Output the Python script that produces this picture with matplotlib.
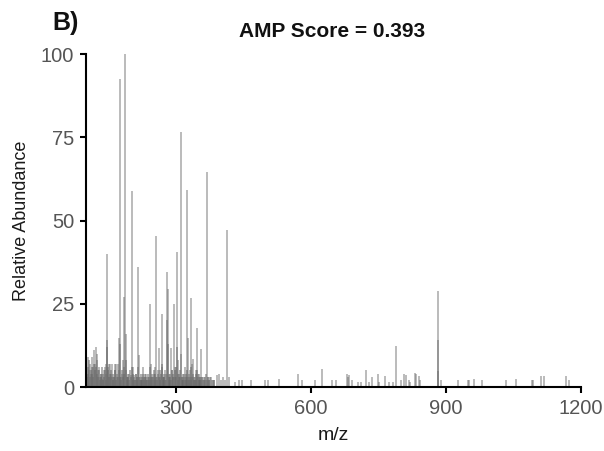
import matplotlib
matplotlib.use("Agg")
import matplotlib.pyplot as plt

plt.rcParams['font.family'] = ['Liberation Sans', 'DejaVu Sans']

# peak list (m/z, relative abundance)
mz = [
    102, 105, 108, 110, 112, 114, 116, 118, 120, 122, 124, 125, 127, 129, 131, 134, 137, 140, 142, 144,
    146, 147.6, 148, 151, 153, 155, 157, 159, 162, 164, 166, 168, 170, 172, 174, 175.8, 178, 180, 183,
    185, 187.7, 188.5, 190, 193, 196, 199.6, 202.6, 204, 207, 209, 211, 214, 216.7, 218, 221, 224, 228,
    231, 233, 236, 238, 242, 244, 247, 250, 252, 254, 256, 258, 261, 263, 265, 268.8, 270, 273, 276,
    278, 280, 281.4, 283, 286, 289, 292, 294, 296, 297.8, 300, 302, 304, 306, 309, 311, 312, 315, 318,
    321, 325.3, 328, 331, 333.5, 336, 339, 342, 345, 347, 350, 353, 356, 359, 362, 365, 369, 371, 374,
    378, 382, 386, 391.5, 396.7, 401, 406, 410, 413.8, 418, 431, 440, 447, 467, 499, 505, 529,
    572, 581, 608.6, 625.7, 646.5, 655.4, 681.5, 684, 685, 691, 706, 711, 722, 729.7, 737, 750, 752,
    765.5, 773, 782, 789, 800, 808, 811.6, 818, 820.5, 832, 834, 840, 843, 883, 883.5, 884, 890,
    927, 949, 952, 962, 980, 1033, 1056, 1092, 1094, 1112, 1119, 1167, 1175,
]
abundance = [
    3, 9, 5, 7, 4, 9, 6, 11, 7, 12, 10, 8, 5, 6, 3, 4, 2.5, 5, 6, 7,
    4, 40, 14, 7, 3, 7, 4, 7, 3, 7, 5, 7, 3, 7, 14.6, 92.5, 3, 4, 8,
    27, 100, 16, 5, 3, 4, 3.5, 59, 6, 3.5, 2, 4, 3, 36, 9.5, 3, 2, 6,
    3, 4, 2, 3, 25, 7, 3, 2, 4, 6, 45.4, 3, 5, 11.6, 3, 22, 6, 3, 5,
    2, 20, 34.6, 29.5, 4, 11.6, 5, 3, 25, 6, 3, 40.5, 8, 4, 3, 76.7, 10, 3, 4,
    6, 59.2, 14.6, 5, 26.8, 7, 8.4, 3, 5, 17.8, 4, 3, 11.5, 3, 2, 3, 64.7, 3, 2,
    3, 2, 2, 3.5, 4, 2, 3, 2, 47.1, 3, 1.5, 2, 2, 2, 2, 2, 2.5,
    4, 2, 2, 5.5, 2, 2, 4, 3, 3.5, 2, 1.5, 1.5, 5, 1.5, 3, 4, 1.5,
    3.3, 1.5, 1.5, 12.3, 2, 3.8, 3.5, 2, 1.5, 4.3, 4, 3.3, 2, 29, 14, 4.8, 2,
    2, 2, 2, 2.5, 2.2, 2.2, 2.5, 2.2, 2.2, 3.4, 3.2, 3.2, 2.1,
]

# second, denser layer of small fragment peaks in the low-mass region
mz_minor = [
    101, 103, 104, 106, 107, 109, 111, 113, 115, 117, 119, 121, 123, 126, 128, 130, 132, 133, 135, 136,
    138, 139, 141, 143, 145, 147, 149, 150, 152, 154, 156, 158, 160, 161, 163, 165, 167, 169, 171, 173,
    176, 177, 179, 181, 182, 184, 186, 189, 191, 192, 194, 195, 197, 198, 201, 203, 205, 206, 208, 210,
    212, 213, 215, 217, 219, 220, 222, 223, 225, 226, 227, 229, 230, 232, 234, 235, 237, 239, 240, 241,
    243, 245, 246, 248, 249, 251, 253, 255, 257, 259, 260, 262, 264, 266, 267, 269, 271, 272, 274, 275,
    277, 279, 282, 284, 285, 287, 288, 290, 291, 293, 295, 298, 299, 301, 303, 305, 307, 308, 310, 313,
    314, 316, 317, 319, 320, 322, 323, 324, 326, 327, 329, 330, 332, 334, 335, 337, 338, 340, 341, 343,
    344, 346, 348, 349, 351, 352, 354, 355, 357, 358, 360, 363, 366, 368, 370, 372, 375, 377, 380, 384,
]
abundance_minor = [
    5, 3, 6, 4, 8, 3, 5, 6, 4, 3, 7, 5, 6, 4, 3, 5, 2, 4, 3, 6,
    2, 4, 3, 5, 2, 12, 5, 6, 3, 4, 5, 3, 2, 4, 3, 5, 2, 4, 3, 5,
    13, 3, 2, 5, 3, 4, 6, 8, 3, 2, 4, 3, 2, 5, 3, 6, 2, 4, 3, 2,
    4, 2, 3, 6, 3, 2, 4, 2, 3, 2, 4, 3, 2, 4, 2, 3, 2, 4, 3, 2,
    6, 3, 2, 4, 3, 5, 2, 4, 3, 2, 4, 3, 5, 2, 4, 7, 3, 2, 4, 3,
    2, 4, 13, 3, 2, 4, 3, 2, 5, 3, 4, 5, 3, 6, 12, 2, 4, 3, 5, 2,
    3, 2, 4, 3, 2, 4, 3, 2, 5, 3, 2, 4, 3, 6, 2, 3, 4, 2, 3, 2,
    4, 2, 5, 3, 2, 4, 2, 3, 2, 3, 2, 3, 2, 4, 2, 3, 2, 3, 2, 2,
]

xticks = [300, 600, 900, 1200]
yticks = [0, 25, 50, 75, 100]

fig = plt.figure(figsize=(6.04, 4.51), dpi=100)
ax = fig.add_axes([0.1419, 0.1419, 0.8195, 0.7377])

ax.vlines(mz_minor, 0, abundance_minor, colors='#5a5a5a', alpha=0.6, linewidth=1.1, clip_on=False)
ax.vlines(mz, 0, abundance, colors='#6e6e6e', alpha=0.6, linewidth=1.1, clip_on=False)

ax.set_xlim(100, 1200)
ax.set_ylim(0, 100)
ax.set_xticks(xticks)
ax.set_yticks(yticks)

for side in ['top', 'right']:
    ax.spines[side].set_visible(False)
for side in ['left', 'bottom']:
    ax.spines[side].set_linewidth(1.5)
    ax.spines[side].set_color('black')

ax.tick_params(axis='both', direction='out', length=4.3, width=1.5, color='black',
               labelsize=14.5, labelcolor='#555555', pad=4)

ax.set_xlabel('m/z', fontsize=14, color='#1a1a1a', labelpad=7)
ax.set_ylabel('Relative Abundance', fontsize=13, color='#1a1a1a', labelpad=8)

fig.text(0.55, 0.930, 'AMP Score = 0.393', ha='center', va='center',
         fontsize=15, fontweight='bold', color='#111111')
fig.text(0.086, 0.948, 'B)', ha='left', va='center',
         fontsize=18, fontweight='bold', color='#111111')

fig.savefig('out.png', dpi=100)
